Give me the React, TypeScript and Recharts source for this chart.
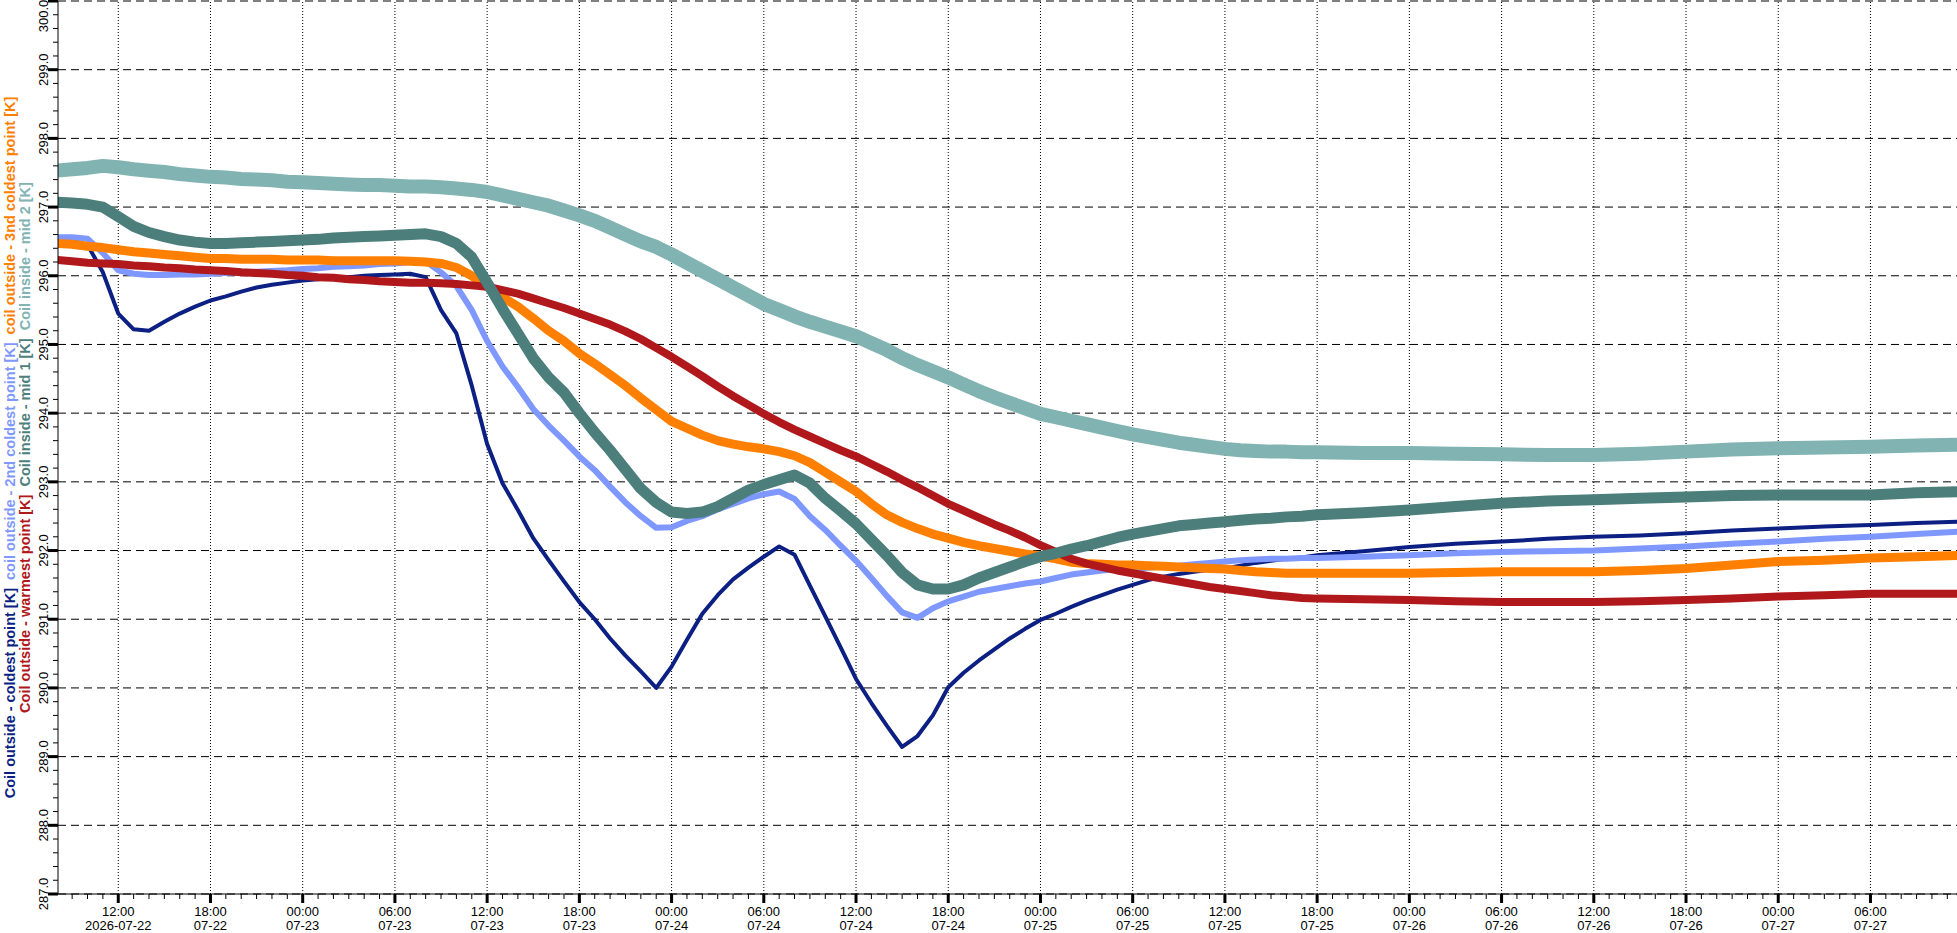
import { LineChart, Line, XAxis, YAxis, ReferenceLine } from "recharts";

// hours since 2026-07-22 00:00
const HOURS = [
  8, 9, 10, 11, 12, 13, 14, 15, 16, 17, 18, 19, 20, 21, 22, 23, 24, 25, 26, 27,
  28, 29, 30, 31, 32, 33, 34, 35, 36, 37, 38, 39, 40, 41, 42, 43, 44, 45, 46, 47,
  48, 49, 50, 51, 52, 53, 54, 55, 56, 57, 58, 59, 60, 61, 62, 63, 64, 65, 66, 67,
  68, 69, 70, 71, 72, 73, 74, 75, 76, 77, 78, 79, 80, 81, 82, 83, 84, 85, 86, 87,
  88, 89, 90, 93, 96, 99, 102, 105, 108, 111, 114, 117, 120, 123, 126, 129, 132,
];

const COLDEST = [
  296.5, 296.52, 296.45, 296.05, 295.45, 295.22, 295.2, 295.33, 295.45, 295.55,
  295.64, 295.7, 295.77, 295.83, 295.87, 295.9, 295.93, 295.95, 295.97, 295.98,
  296.0, 296.01, 296.02, 296.03, 295.98, 295.5, 295.16, 294.4, 293.55, 292.98,
  292.59, 292.18, 291.86, 291.55, 291.25, 291.0, 290.72, 290.47, 290.24, 290.0,
  290.31, 290.7, 291.08, 291.35, 291.58, 291.75, 291.91, 292.06, 291.94, 291.49,
  291.04, 290.59, 290.13, 289.78, 289.45, 289.14, 289.3, 289.6, 290.01, 290.22,
  290.4, 290.56, 290.72, 290.86, 290.99, 291.08, 291.18, 291.27, 291.35, 291.43,
  291.5, 291.57, 291.62, 291.66, 291.69, 291.72, 291.74, 291.78, 291.82, 291.85,
  291.88, 291.9, 291.93, 291.99, 292.05, 292.1, 292.13, 292.17, 292.2, 292.22,
  292.25, 292.29, 292.32, 292.35, 292.37, 292.4, 292.42,
];

const SECOND_COLDEST = [
  296.56, 296.56, 296.54, 296.33, 296.08, 296.03, 296.01, 296.01, 296.02, 296.02,
  296.03, 296.04, 296.05, 296.06, 296.07, 296.08, 296.1, 296.11, 296.13, 296.14,
  296.15, 296.17, 296.18, 296.2, 296.21, 296.05, 295.85, 295.5, 295.05, 294.68,
  294.38, 294.06, 293.82, 293.6, 293.37, 293.17, 292.93, 292.7, 292.5, 292.33,
  292.34, 292.43, 292.5, 292.6, 292.68, 292.76, 292.82, 292.86, 292.75, 292.5,
  292.3, 292.07, 291.85, 291.6, 291.34, 291.1, 291.02, 291.16, 291.26, 291.33,
  291.4, 291.44, 291.48, 291.52, 291.55, 291.6, 291.65, 291.68, 291.71, 291.73,
  291.74, 291.75, 291.77, 291.78, 291.8, 291.82, 291.84, 291.86, 291.87, 291.88,
  291.88, 291.89, 291.89, 291.91, 291.93, 291.96, 291.98, 291.99, 292.0, 292.03,
  292.06, 292.1, 292.13, 292.17, 292.2, 292.24, 292.28,
];

const THIRD_COLDEST = [
  296.47, 296.46, 296.43, 296.41, 296.38, 296.35, 296.33, 296.31, 296.29, 296.27,
  296.25, 296.25, 296.24, 296.24, 296.24, 296.23, 296.23, 296.23, 296.22, 296.22,
  296.22, 296.22, 296.22, 296.21, 296.2, 296.18, 296.12, 296.0, 295.84, 295.69,
  295.55, 295.38, 295.2, 295.05, 294.87, 294.72, 294.56, 294.4, 294.22, 294.05,
  293.88, 293.78, 293.68, 293.6, 293.55, 293.51, 293.48, 293.44, 293.38, 293.28,
  293.14, 293.0, 292.86, 292.68, 292.52, 292.41, 292.32, 292.24, 292.18, 292.12,
  292.07, 292.03, 291.99, 291.95, 291.92, 291.88, 291.83, 291.81, 291.8, 291.79,
  291.79, 291.78, 291.77, 291.76, 291.75, 291.74, 291.73, 291.71, 291.69, 291.68,
  291.67, 291.67, 291.67, 291.67, 291.67, 291.68, 291.69, 291.69, 291.69, 291.71,
  291.74, 291.79, 291.84, 291.86, 291.89, 291.91, 291.93,
];

const WARMEST = [
  296.23, 296.21, 296.19, 296.18, 296.17, 296.15, 296.14, 296.12, 296.11, 296.09,
  296.08, 296.07, 296.05, 296.04, 296.03, 296.01, 296.0, 295.98, 295.97, 295.95,
  295.94, 295.92, 295.91, 295.9, 295.9, 295.89, 295.88, 295.86, 295.84, 295.79,
  295.74, 295.67, 295.6, 295.53, 295.45, 295.37, 295.29, 295.19, 295.08, 294.95,
  294.82, 294.68, 294.54, 294.39, 294.25, 294.12, 293.99, 293.87, 293.76, 293.66,
  293.56, 293.46, 293.37, 293.26, 293.15, 293.03, 292.92, 292.8, 292.68, 292.58,
  292.48, 292.38, 292.29, 292.19, 292.08, 291.98, 291.88, 291.81, 291.76, 291.71,
  291.67, 291.63, 291.59, 291.55, 291.51, 291.47, 291.44, 291.41, 291.38, 291.35,
  291.33, 291.31, 291.3, 291.29, 291.28, 291.26, 291.25, 291.25, 291.25, 291.26,
  291.28, 291.3, 291.33, 291.35, 291.37, 291.37, 291.37,
];

const MID_1 = [
  297.07, 297.06, 297.04, 297.0, 296.86, 296.72, 296.63, 296.57, 296.52, 296.49,
  296.47, 296.47, 296.48, 296.49, 296.5, 296.51, 296.52, 296.53, 296.55, 296.56,
  296.57, 296.58, 296.59, 296.6, 296.61, 296.57, 296.47, 296.27, 295.9, 295.52,
  295.16, 294.8, 294.52, 294.3, 294.0, 293.72, 293.46, 293.18, 292.9, 292.7,
  292.56, 292.54, 292.56, 292.64, 292.76, 292.88, 292.96, 293.03, 293.1, 292.98,
  292.76, 292.58, 292.39, 292.16, 291.93, 291.68, 291.5, 291.44, 291.44, 291.5,
  291.6, 291.68, 291.76, 291.84, 291.91, 291.96, 292.02, 292.07, 292.13, 292.19,
  292.24, 292.28, 292.32, 292.36, 292.38, 292.4, 292.42, 292.44, 292.46, 292.47,
  292.49, 292.5, 292.52, 292.55, 292.59, 292.64, 292.69, 292.72, 292.74, 292.76,
  292.78, 292.8, 292.81, 292.81, 292.81, 292.84, 292.86,
];

const MID_2 = [
  297.53, 297.55, 297.57, 297.6, 297.58, 297.55, 297.53, 297.51, 297.48, 297.46,
  297.44, 297.43, 297.41, 297.4, 297.39, 297.37, 297.36, 297.35, 297.34, 297.33,
  297.32, 297.32, 297.31, 297.3, 297.3, 297.29, 297.27, 297.25, 297.22, 297.17,
  297.12, 297.07, 297.02, 296.95, 296.88, 296.8, 296.7, 296.6, 296.5, 296.42,
  296.31, 296.19, 296.07, 295.95, 295.83, 295.71, 295.59, 295.5, 295.41, 295.33,
  295.26, 295.19, 295.12, 295.02, 294.92, 294.8, 294.7, 294.61, 294.52, 294.42,
  294.32, 294.23, 294.15, 294.07, 293.99, 293.94, 293.89, 293.84, 293.79, 293.74,
  293.69, 293.65, 293.61, 293.57, 293.54, 293.51, 293.48, 293.46, 293.45, 293.44,
  293.44, 293.43, 293.43, 293.42, 293.42, 293.41, 293.4, 293.39, 293.39, 293.41,
  293.44, 293.47, 293.49, 293.5, 293.51, 293.53, 293.54,
];

const SERIES = [
  { key: "coldest", name: "Coil outside - coldest point [K]", color: "#0c1f83", width: 4, values: COLDEST },
  { key: "second", name: "coil outside - 2nd coldest point [K]", color: "#7f98ff", width: 6, values: SECOND_COLDEST },
  { key: "third", name: "coil outside - 3nd coldest point [K]", color: "#ff8000", width: 9, values: THIRD_COLDEST },
  { key: "warmest", name: "Coil outside - warmest point [K]", color: "#b0181c", width: 8, values: WARMEST },
  { key: "mid1", name: "Coil inside - mid 1 [K]", color: "#4c7f7c", width: 11, values: MID_1 },
  { key: "mid2", name: "Coil inside - mid 2 [K]", color: "#80b3b2", width: 14, values: MID_2 },
];

const X_DOMAIN = [8.08, 131.63];
const Y_DOMAIN = [287, 300];
const Y_MAJOR = [287, 288, 289, 290, 291, 292, 293, 294, 295, 296, 297, 298, 299, 300];
const X_MAJOR = [12, 18, 24, 30, 36, 42, 48, 54, 60, 66, 72, 78, 84, 90, 96, 102, 108, 114, 120, 126];

const X_TICKS: number[] = [];
for (let h = 9; h <= 131; h++) X_TICKS.push(h);
const Y_TICKS: number[] = [];
for (let i = 0; i <= 65; i++) Y_TICKS.push(Math.round((287 + i * 0.2) * 10) / 10);

const rows = HOURS.map((h, i) => {
  const row: Record<string, number> = { h };
  SERIES.forEach((s) => (row[s.key] = s.values[i]));
  return row;
});

const FONT = "'Liberation Sans', Arial, sans-serif";

const XTick = (props: any) => {
  const { x, y, payload } = props;
  const h = payload.value;
  if (h % 6 !== 0) {
    return <line x1={x} x2={x} y1={y} y2={y + 5} stroke="#000" strokeWidth={1} />;
  }
  const hh = String(h % 24).padStart(2, "0");
  const dd = 22 + Math.floor(h / 24);
  const second = h === 12 ? "2026-07-22" : `07-${dd}`;
  return (
    <g>
      <rect x={x - 1.5} y={y} width={3} height={9} fill="#000" />
      <text x={x} y={y + 17} textAnchor="middle" dominantBaseline="central" fontSize={13} fontFamily={FONT} fill="#000">
        {hh}:00
      </text>
      <text x={x} y={y + 31} textAnchor="middle" dominantBaseline="central" fontSize={13} fontFamily={FONT} fill="#000">
        {second}
      </text>
    </g>
  );
};

const YTick = (props: any) => {
  const { x, y, payload } = props;
  const v = payload.value;
  if (Math.abs(v - Math.round(v)) > 1e-6) {
    return <line x1={x - 5} x2={x} y1={y} y2={y} stroke="#000" strokeWidth={1} />;
  }
  const ty = Math.max(y, 16);
  const tx = x - 14.5;
  return (
    <g>
      <rect x={x - 10} y={y - 1.5} width={10} height={3} fill="#000" />
      <text
        x={tx}
        y={ty}
        textAnchor="middle"
        dominantBaseline="central"
        fontSize={13}
        fontFamily={FONT}
        fill="#000"
        transform={`rotate(-90 ${tx} ${ty})`}
      >
        {v.toFixed(1)}
      </text>
    </g>
  );
};

const LINE_1 = [SERIES[0], SERIES[1], SERIES[2]];
const LINE_2 = [SERIES[3], SERIES[4], SERIES[5]];

const AxisTitle = (props: any) => {
  const vb = props.viewBox || { x: 0, y: 1, width: 58, height: 893 };
  const cy = vb.y + vb.height / 2;
  const rows2 = [
    { items: LINE_1, x: vb.x + 10 },
    { items: LINE_2, x: vb.x + 25 },
  ];
  return (
    <g>
      {rows2.map((r, ri) => (
        <text
          key={ri}
          x={r.x}
          y={cy}
          textAnchor="middle"
          dominantBaseline="central"
          fontSize={14.5}
          fontWeight="bold"
          fontFamily={FONT}
          transform={`rotate(-90 ${r.x} ${cy})`}
        >
          {r.items.map((s, i) => (
            <tspan key={s.key} fill={s.color} dx={i === 0 ? 0 : 8}>
              {s.name}
            </tspan>
          ))}
        </text>
      ))}
    </g>
  );
};

const App = () => {
  return (
    <div style={{ position: "absolute", left: 0, top: 0, width: 1957, height: 933, background: "#fff" }}>
      <LineChart width={1957} height={933} data={rows} margin={{ top: 1, right: 0, left: 0, bottom: 0 }}>
        <XAxis
          dataKey="h"
          type="number"
          domain={X_DOMAIN}
          allowDataOverflow
          ticks={X_TICKS}
          interval={0}
          height={39}
          tickSize={0}
          tickMargin={0}
          tickLine={false}
          axisLine={{ stroke: "#000", strokeWidth: 1 }}
          tick={<XTick />}
        />
        <YAxis
          type="number"
          domain={Y_DOMAIN}
          allowDataOverflow
          ticks={Y_TICKS}
          interval={0}
          width={58}
          tickSize={0}
          tickMargin={0}
          tickLine={false}
          axisLine={{ stroke: "#000", strokeWidth: 1 }}
          tick={<YTick />}
          label={{ content: <AxisTitle /> }}
        />

        {Y_MAJOR.map((v) => (
          <ReferenceLine key={`y${v}`} y={v} stroke="#000" strokeWidth={1} strokeDasharray="8 5" />
        ))}
        {X_MAJOR.map((h) => (
          <ReferenceLine key={`x${h}`} x={h} stroke="#000" strokeWidth={1} strokeDasharray="1 2" />
        ))}

        {SERIES.map((s) => (
          <Line
            key={s.key}
            type="linear"
            dataKey={s.key}
            name={s.name}
            stroke={s.color}
            strokeWidth={s.width}
            strokeLinejoin="round"
            dot={false}
            activeDot={false}
            isAnimationActive={false}
          />
        ))}
      </LineChart>
    </div>
  );
};

export default App;
